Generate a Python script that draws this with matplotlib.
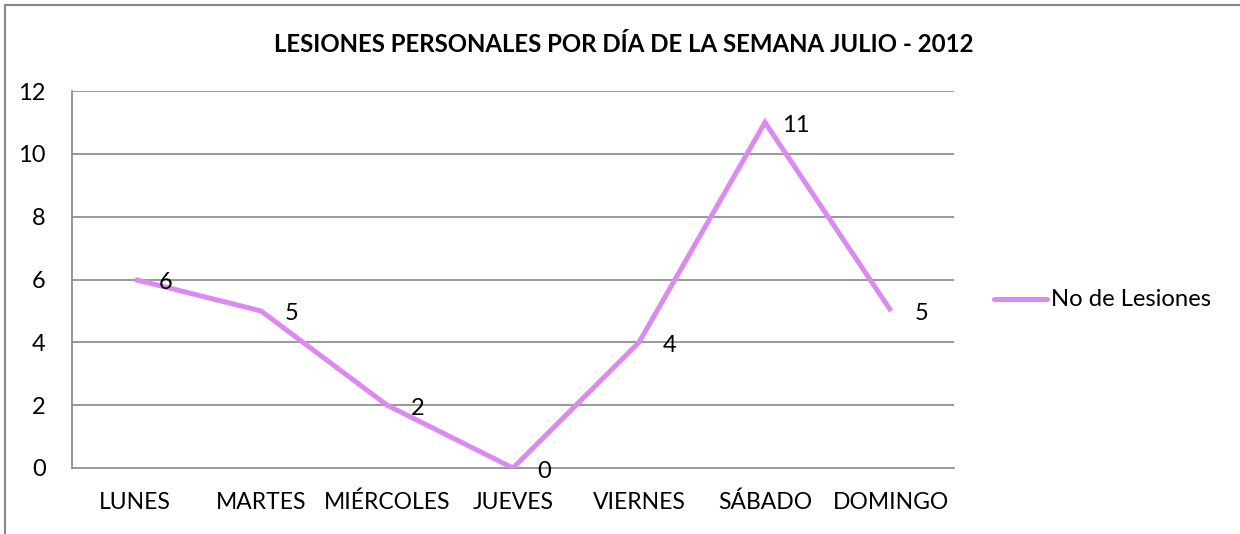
import matplotlib
matplotlib.use("Agg")
import matplotlib.pyplot as plt
from matplotlib.lines import Line2D

categories = ["LUNES", "MARTES", "MIÉRCOLES", "JUEVES", "VIERNES", "SÁBADO", "DOMINGO"]
values = [6, 5, 2, 0, 4, 11, 5]
series_name = "No de Lesiones"
title = "LESIONES PERSONALES POR DÍA DE LA SEMANA JULIO - 2012"
yticks = [0, 2, 4, 6, 8, 10, 12]

plt.rcParams['font.family'] = ['Lato', 'DejaVu Sans']

W, H = 1240, 534
fig = plt.figure(figsize=(W / 100, H / 100), dpi=100)
ax = fig.add_axes([72 / W, (H - 468) / H, (954 - 72) / W, (468 - 91) / H])

line_color = '#DA8AF0'
grid_color = '#878787'
x = list(range(len(categories)))
ax.plot(x, values, color=line_color, lw=3.6, solid_joinstyle='miter', solid_capstyle='butt', zorder=3)

for xi, v in zip(x, values):
    ax.annotate(str(v), (xi, v), xytext=(31, -3), textcoords='offset pixels',
                ha='center', va='center', fontsize=17, color='black', zorder=4)

ax.set_xlim(-0.5, len(categories) - 0.5)
ax.set_ylim(0, 12)
ax.set_yticks(yticks)
ax.set_yticklabels([str(t) for t in yticks], fontsize=17)
ax.set_xticks(x)
ax.set_xticklabels(categories, fontsize=16.5)
ax.tick_params(axis='both', length=0)
ax.tick_params(axis='y', pad=19)
ax.tick_params(axis='x', pad=17)
for t in yticks[1:]:
    ax.axhline(t, color=grid_color, lw=1.2, zorder=1)
for s in ['top', 'right']:
    ax.spines[s].set_visible(False)
for s in ['left', 'bottom']:
    ax.spines[s].set_color(grid_color)
    ax.spines[s].set_linewidth(1.2)

fig.text(624 / W, 1 - 45 / H, title, ha='center', va='center', fontsize=17.3, fontweight='bold')

# legend
fig.add_artist(Line2D([994 / W, 1047 / W], [1 - 299 / H, 1 - 299 / H], color=line_color, lw=3.6,
                      solid_capstyle='round'))
fig.text(1051 / W, 1 - 299 / H, series_name, ha='left', va='center', fontsize=17.2)

# outer frame (left and top visible)
fig.add_artist(Line2D([4.5 / W, 4.5 / W], [0, 1 - 4.5 / H], color='#888888', lw=1.5))
fig.add_artist(Line2D([4.5 / W, 1], [1 - 4.5 / H, 1 - 4.5 / H], color='#888888', lw=1.5))

fig.savefig("out.png", dpi=100, facecolor='white')
